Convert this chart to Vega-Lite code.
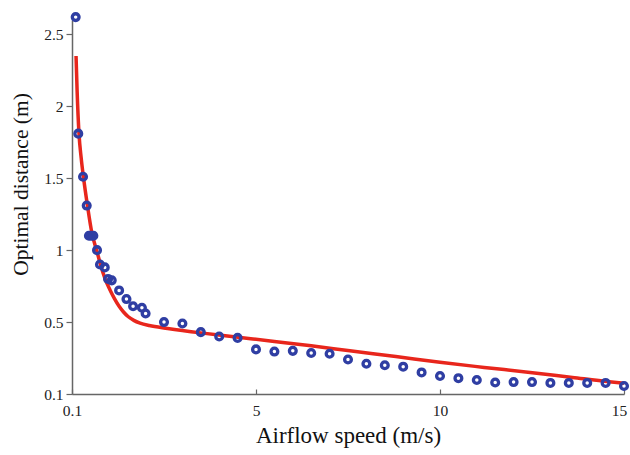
{
  "$schema": "https://vega.github.io/schema/vega-lite/v6.json",
  "width": 552,
  "height": 374,
  "autosize": "none",
  "padding": {"left": 72, "top": 20, "right": 6, "bottom": 61},
  "background": "white",
  "config": {
    "view": {"stroke": null},
    "axis": {
      "grid": false,
      "labelFont": "Liberation Serif",
      "titleFont": "Liberation Serif",
      "labelFontSize": 15.5,
      "titleFontSize": 23,
      "titleFontWeight": "normal",
      "labelColor": "#222",
      "titleColor": "#111",
      "domainColor": "#666",
      "domainWidth": 1.5,
      "tickColor": "#666",
      "tickWidth": 1.2,
      "labelFlush": false,
      "labelOverlap": false
    }
  },
  "datasets": {
    "pts": [
      {"speed": 0.1, "dist": 2.62},
      {"speed": 0.17, "dist": 1.81},
      {"speed": 0.3, "dist": 1.51},
      {"speed": 0.4, "dist": 1.31},
      {"speed": 0.46, "dist": 1.1},
      {"speed": 0.52, "dist": 1.1},
      {"speed": 0.58, "dist": 1.1},
      {"speed": 0.68, "dist": 1.0},
      {"speed": 0.76, "dist": 0.9},
      {"speed": 0.89, "dist": 0.88},
      {"speed": 0.98, "dist": 0.8},
      {"speed": 1.08, "dist": 0.79},
      {"speed": 1.28, "dist": 0.72},
      {"speed": 1.48, "dist": 0.66},
      {"speed": 1.66, "dist": 0.61},
      {"speed": 1.9, "dist": 0.6},
      {"speed": 2.0, "dist": 0.56},
      {"speed": 2.5, "dist": 0.5},
      {"speed": 3.0, "dist": 0.49},
      {"speed": 3.5, "dist": 0.43},
      {"speed": 4.0, "dist": 0.4},
      {"speed": 4.5, "dist": 0.39},
      {"speed": 5.0, "dist": 0.31},
      {"speed": 5.5, "dist": 0.295},
      {"speed": 6.0, "dist": 0.3},
      {"speed": 6.5, "dist": 0.285},
      {"speed": 7.0, "dist": 0.28},
      {"speed": 7.5, "dist": 0.24},
      {"speed": 8.0, "dist": 0.21},
      {"speed": 8.5, "dist": 0.2},
      {"speed": 9.0, "dist": 0.19},
      {"speed": 9.5, "dist": 0.15},
      {"speed": 10.0, "dist": 0.125},
      {"speed": 10.5, "dist": 0.11},
      {"speed": 11.0, "dist": 0.097},
      {"speed": 11.5, "dist": 0.08},
      {"speed": 12.0, "dist": 0.083},
      {"speed": 12.5, "dist": 0.083},
      {"speed": 13.0, "dist": 0.077},
      {"speed": 13.5, "dist": 0.077},
      {"speed": 14.0, "dist": 0.077},
      {"speed": 14.5, "dist": 0.077},
      {"speed": 15.0, "dist": 0.056}
    ],
    "fit": [
      {"speed": 0.11, "dist": 2.35},
      {"speed": 0.14, "dist": 2.1},
      {"speed": 0.19, "dist": 1.81},
      {"speed": 0.25, "dist": 1.64},
      {"speed": 0.31, "dist": 1.51},
      {"speed": 0.42, "dist": 1.31},
      {"speed": 0.54, "dist": 1.12},
      {"speed": 0.68, "dist": 0.99},
      {"speed": 0.78, "dist": 0.895},
      {"speed": 0.9, "dist": 0.8},
      {"speed": 1.03, "dist": 0.725},
      {"speed": 1.15, "dist": 0.665},
      {"speed": 1.28, "dist": 0.61},
      {"speed": 1.4, "dist": 0.57},
      {"speed": 1.53, "dist": 0.537},
      {"speed": 1.68, "dist": 0.512},
      {"speed": 1.85, "dist": 0.493},
      {"speed": 2.1, "dist": 0.476},
      {"speed": 2.6, "dist": 0.456},
      {"speed": 3.5, "dist": 0.425},
      {"speed": 4.4, "dist": 0.398},
      {"speed": 5.5, "dist": 0.365},
      {"speed": 6.5, "dist": 0.335},
      {"speed": 7.55, "dist": 0.3},
      {"speed": 8.8, "dist": 0.26},
      {"speed": 10.0, "dist": 0.22},
      {"speed": 11.2, "dist": 0.185},
      {"speed": 12.45, "dist": 0.15},
      {"speed": 13.6, "dist": 0.115},
      {"speed": 14.6, "dist": 0.085},
      {"speed": 15.0, "dist": 0.075}
    ]
  },
  "layer": [
    {
      "data": {"name": "fit"},
      "mark": {"type": "line", "color": "#e8261c", "strokeWidth": 3.5, "interpolate": "monotone", "clip": false},
      "encoding": {
        "x": {
          "field": "speed", "type": "quantitative",
          "scale": {"domain": [0, 15], "nice": false, "zero": false},
          "axis": {
            "title": "Airflow speed (m/s)",
            "values": [0, 5, 10, 15],
            "labelExpr": "datum.value == 0 ? '0.1' : datum.label",
            "labelOffset": {"expr": "datum.value == 15 ? -5 : 0"},
            "tickSize": -5,
            "labelPadding": 14,
            "titlePadding": 6
          }
        },
        "y": {
          "field": "dist", "type": "quantitative",
          "scale": {"domain": [0, 2.6], "nice": false, "zero": false},
          "axis": {
            "title": "Optimal distance (m)",
            "titleFontSize": 21.5,
            "titleY": 164,
            "values": [0, 0.5, 1, 1.5, 2, 2.5],
            "format": "~g",
            "labelExpr": "datum.value == 0 ? '0.1' : datum.label",
            "tickSize": 6,
            "labelPadding": 3,
            "titlePadding": 11
          }
        }
      }
    },
    {
      "data": {"name": "pts"},
      "mark": {"type": "point", "shape": "circle", "filled": false, "color": "#2f3ea3", "strokeWidth": 3.3, "size": 46, "opacity": 1, "clip": false},
      "encoding": {
        "x": {"field": "speed", "type": "quantitative"},
        "y": {"field": "dist", "type": "quantitative"}
      }
    }
  ]
}
